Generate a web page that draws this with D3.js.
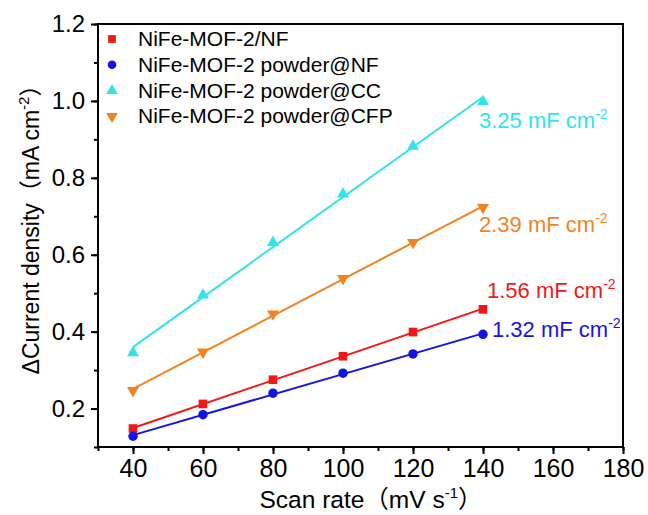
<!DOCTYPE html>
<html>
<head>
<meta charset="utf-8">
<script src="https://cdn.jsdelivr.net/npm/d3@7"></script>
<style>
  body { margin: 0; background: #fff; }
  text { font-family: Arial, "Liberation Sans", sans-serif; }
</style>
</head>
<body>
<script>
var width = 648, height = 515;
var margin = {top: 24, right: 25, bottom: 68, left: 98};

// data
var scanRates = [40, 60, 80, 100, 120, 140];
var nfValues = [0.148, 0.212, 0.275, 0.336, 0.399, 0.458];
var powderNfValues = [0.128, 0.184, 0.240, 0.292, 0.342, 0.393];
var powderCcValues = [0.345, 0.495, 0.632, 0.758, 0.882, 0.998];
var powderCfpValues = [0.247, 0.347, 0.446, 0.538, 0.632, 0.723];

var seriesNames = ["NiFe-MOF-2/NF", "NiFe-MOF-2 powder@NF", "NiFe-MOF-2 powder@CC", "NiFe-MOF-2 powder@CFP"];
var seriesLabels = ["1.56", "1.32", "3.25", "2.39"];
var xTicks = [40, 60, 80, 100, 120, 140, 160, 180];
var yTicks = [0.2, 0.4, 0.6, 0.8, 1.0, 1.2];

var colors = ["#f01818", "#1414e6", "#30e4ec", "#f5821f"];
var symbols = [d3.symbolSquare, d3.symbolCircle, d3.symbolTriangle, d3.symbolTriangle];
var markerSizes = [75, 70, 62, 62];
var series = [nfValues, powderNfValues, powderCcValues, powderCfpValues].map(function (vals, i) {
    return {name: seriesNames[i], label: seriesLabels[i], color: colors[i], symbol: symbols[i], size: markerSizes[i],
        points: scanRates.map(function (r, j) { return {x: r, y: vals[j]}; })};
});

var svg = d3.select('body').append('svg').attr('width', width).attr('height', height);
var w = width - margin.left - margin.right,
    h = height - margin.top - margin.bottom;
var chart = svg.append('g').attr('transform', 'translate(' + margin.left + ',' + margin.top + ')');

var x = d3.scaleLinear().domain([30, 180]).range([0, w]);
var y = d3.scaleLinear().domain([0.1, 1.2]).range([h, 0]);

// frame
chart.append('rect').attr('width', w).attr('height', h)
    .attr('fill', 'none').attr('stroke', '#000').attr('stroke-width', 2);

// axes with minor ticks
var xMinor = d3.range(30, 181, 10);
var yMinor = d3.range(0.1, 1.21, 0.1);
chart.append('g').attr('transform', 'translate(0,' + h + ')')
    .call(d3.axisBottom(x).tickValues(xMinor).tickSize(4).tickFormat(''))
    .call(g => g.select('.domain').remove());
chart.append('g').attr('transform', 'translate(0,' + h + ')')
    .call(d3.axisBottom(x).tickValues(xTicks).tickSize(7).tickPadding(5).tickFormat(d3.format('d')))
    .call(g => g.select('.domain').remove())
    .selectAll('text').attr('font-size', 25).attr('fill', '#000');
chart.append('g')
    .call(d3.axisLeft(y).tickValues(yMinor).tickSize(4).tickFormat(''))
    .call(g => g.select('.domain').remove());
chart.append('g')
    .call(d3.axisLeft(y).tickValues(yTicks).tickSize(7).tickPadding(6).tickFormat(d3.format('.1f')))
    .call(g => g.select('.domain').remove())
    .selectAll('text').attr('font-size', 24).attr('fill', '#000');
chart.selectAll('.tick line').attr('stroke', '#000').attr('stroke-width', 2);

// fitted lines (least squares)
series.forEach(function (s) {
    var n = s.points.length;
    var mx = d3.mean(s.points, d => d.x), my = d3.mean(s.points, d => d.y);
    var slope = d3.sum(s.points, d => (d.x - mx) * (d.y - my)) / d3.sum(s.points, d => (d.x - mx) * (d.x - mx));
    var b = my - slope * mx;
    var x0 = s.points[0].x, x1 = s.points[n - 1].x;
    chart.append('line')
        .attr('x1', x(x0)).attr('y1', y(slope * x0 + b))
        .attr('x2', x(x1)).attr('y2', y(slope * x1 + b))
        .attr('stroke', s.color).attr('stroke-width', 2);
});

// markers
series.forEach(function (s, i) {
    chart.append('g').selectAll('path')
        .data(s.points).enter()
        .append('path')
        .attr('d', d3.symbol().type(s.symbol).size(s.size))
        .attr('transform', function (d) {
            return 'translate(' + x(d.x) + ',' + y(d.y) + ')' + (i === 3 ? ' rotate(180)' : '');
        })
        .attr('fill', s.color);
});

// legend
var legend = chart.append('g').attr('transform', 'translate(14,15)');
series.forEach(function (s, i) {
    var row = legend.append('g').attr('transform', 'translate(0,' + (i * 25.8) + ')');
    row.append('path')
        .attr('d', d3.symbol().type(s.symbol).size(i === 0 ? 60 : 58))
        .attr('transform', i === 3 ? 'rotate(180)' : null)
        .attr('fill', s.color);
    row.append('text').attr('x', 26).attr('y', 7)
        .attr('font-size', 21).attr('fill', '#000').text(s.name);
});

// capacitance labels
var labelPos = [[487, 298], [492, 337], [479, 128], [479, 232]];
series.forEach(function (s, i) {
    var t = svg.append('text').attr('x', labelPos[i][0]).attr('y', labelPos[i][1])
        .attr('font-size', 22).attr('fill', s.color);
    t.append('tspan').text(s.label + ' mF cm');
    t.append('tspan').attr('dy', -9).attr('font-size', 14).text('-2');
});

// axis titles
var cjk = '"Noto Sans CJK SC", sans-serif';
var xt = svg.append('text').attr('x', 371).attr('y', 508)
    .attr('text-anchor', 'middle').attr('font-size', 24.5).attr('fill', '#000');
xt.append('tspan').text('Scan rate');
xt.append('tspan').attr('font-family', cjk).text('（');
xt.append('tspan').text('mV s');
xt.append('tspan').attr('dy', -10).attr('font-size', 15).text('-1');
xt.append('tspan').attr('dy', 10).attr('font-family', cjk).text('）');

var yt = svg.append('text').attr('transform', 'translate(39,224) rotate(-90)')
    .attr('text-anchor', 'middle').attr('font-size', 23).attr('fill', '#000');
yt.append('tspan').text('ΔCurrent density');
yt.append('tspan').attr('font-family', cjk).text('（');
yt.append('tspan').text('mA cm');
yt.append('tspan').attr('dy', -10).attr('font-size', 15).text('-2');
yt.append('tspan').attr('dy', 10).attr('font-family', cjk).text('）');
</script>
</body>
</html>
